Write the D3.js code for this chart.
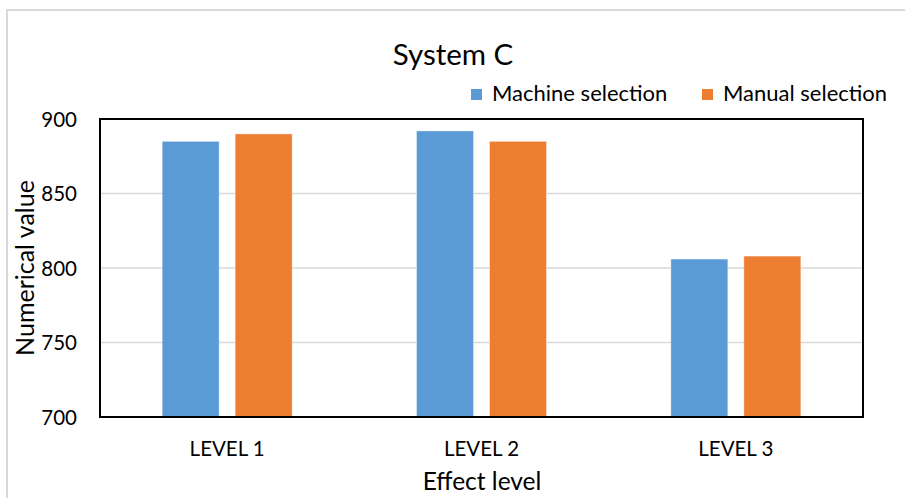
<!DOCTYPE html>
<html>
<head>
<meta charset="utf-8">
<script src="https://cdn.jsdelivr.net/npm/d3@7"></script>
<style>
  html, body { margin: 0; padding: 0; background: #fff; }
  svg { display: block; font-family: Lato, "Open Sans", sans-serif; }
</style>
</head>
<body>
<svg id="chart" width="905" height="498"></svg>
<script>
// Effect levels on the x axis
const categories = ["LEVEL 1", "LEVEL 2", "LEVEL 3"];
// Series names and their values per level
const seriesNames = ["Machine selection", "Manual selection"];
const machineValues = [885, 892, 806];
const manualValues = [890, 885, 808];
// Y axis ticks
const yTicks = [700, 750, 800, 850, 900];
const colors = ["#5b9bd5", "#ed7d31"];

const svg = d3.select("#chart");
const W = 905, H = 498;
const plot = { left: 100, right: 863, top: 119, bottom: 417 };

// outer chart border (light gray)
svg.append("rect")
  .attr("x", 7).attr("y", 10)
  .attr("width", W + 10).attr("height", H + 10)
  .attr("fill", "none").attr("stroke", "#d9d9d9").attr("stroke-width", 2);

const x = d3.scaleBand().domain(categories)
  .range([plot.left, plot.right]).paddingInner(0).paddingOuter(0);
const y = d3.scaleLinear().domain([700, 900]).range([plot.bottom, plot.top]);

// grid lines
svg.append("g").selectAll("line").data(yTicks.slice(1, -1)).join("line")
  .attr("x1", plot.left).attr("x2", plot.right)
  .attr("y1", d => y(d)).attr("y2", d => y(d))
  .attr("stroke", "#d9d9d9").attr("stroke-width", 1.5);

// grouped bars
const barW = 57, barGap = 16;
const series = [machineValues, manualValues];
const inner = d3.scaleBand().domain([0, 1]).range([0, barW * 2 + barGap]).paddingInner(barGap / (barW + barGap));
series.forEach((vals, si) => {
  svg.append("g").selectAll("rect").data(vals).join("rect")
    .attr("x", (d, i) => x(categories[i]) + x.bandwidth() / 2 - (barW * 2 + barGap) / 2 + inner(si))
    .attr("width", inner.bandwidth())
    .attr("y", d => y(d))
    .attr("height", d => y(700) - y(d))
    .attr("fill", colors[si])
    .attr("stroke", "#fff").attr("stroke-opacity", 0.4).attr("stroke-width", 1);
});

// plot frame
svg.append("rect")
  .attr("x", plot.left).attr("y", plot.top)
  .attr("width", plot.right - plot.left).attr("height", plot.bottom - plot.top)
  .attr("fill", "none").attr("stroke", "#000").attr("stroke-width", 2);

// y axis labels
const yAxis = d3.axisLeft(y).tickValues(yTicks).tickSize(0).tickPadding(23);
const gy = svg.append("g").attr("transform", `translate(${plot.left},0)`).call(yAxis);
gy.select(".domain").remove();
gy.attr("font-size", 20.5).attr("font-family", "Lato, sans-serif");
gy.selectAll("text").attr("fill", "#000").attr("dy", "0.36em");

// x axis labels
const xAxis = d3.axisBottom(x).tickSize(0);
const gx = svg.append("g").attr("transform", `translate(0,${plot.bottom})`).call(xAxis);
gx.select(".domain").remove();
gx.attr("font-size", 20.5).attr("font-family", "Lato, sans-serif");
gx.selectAll("text").attr("fill", "#000").attr("y", 39).attr("dy", 0);

// title
svg.append("text").attr("x", 453).attr("y", 65).attr("text-anchor", "middle")
  .attr("font-size", 29.5).attr("fill", "#000").text("System C");

// axis titles
svg.append("text").attr("x", 482).attr("y", 490).attr("text-anchor", "middle")
  .attr("font-size", 24.5).attr("fill", "#000").text("Effect level");
svg.append("text")
  .attr("transform", `translate(34,268) rotate(-90)`)
  .attr("text-anchor", "middle").attr("font-size", 25).attr("fill", "#000")
  .text("Numerical value");

// legend
const legendX = [471, 702];
const lg = svg.append("g").selectAll("g").data(seriesNames).join("g")
  .attr("transform", (d, i) => `translate(${legendX[i]},89)`);
lg.append("rect").attr("width", 11).attr("height", 11).attr("fill", (d, i) => colors[i]);
lg.append("text").attr("x", 21).attr("y", 12).attr("font-size", 22).attr("fill", "#000").text(d => d);
</script>
</body>
</html>
